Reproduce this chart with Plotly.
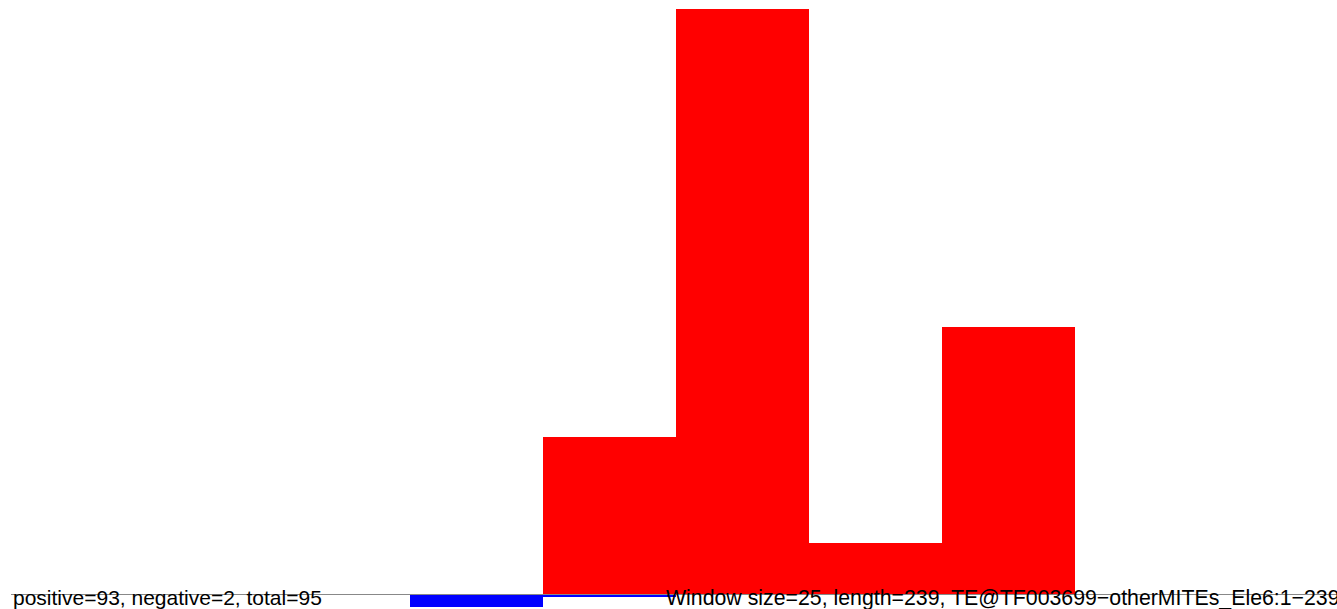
import plotly.graph_objects as go

# Window counts along the element (window size 25 bp, length 239 bp)
window_start = [0, 25, 50, 75, 100, 125, 150, 175, 200, 225]
positive = [0, 0, 0, 0, 13.75, 51.0, 4.49, 23.33, 0, 0]
negative = [0, 0, 0, -1.06, -0.19, 0, 0, 0, 0, 0]

window_size = 25
seq_length = 239
summary_label = "positive=93, negative=2, total=95"
info_label = "Window size=25, length=239, TE@TF003699\u2212otherMITEs_Ele6:1\u2212239"

centers = [s + window_size / 2 for s in window_start]

fig = go.Figure()
fig.add_trace(go.Bar(x=centers, y=positive, width=window_size,
                     marker=dict(color="#ff0000", line=dict(width=0)),
                     showlegend=False, hoverinfo="skip"))
fig.add_trace(go.Bar(x=centers, y=negative, width=window_size,
                     marker=dict(color="#0000ff", line=dict(width=0)),
                     showlegend=False, hoverinfo="skip"))

# zero line across the plot
fig.add_shape(type="line", xref="x", yref="y", x0=0, x1=260, y0=0, y1=0,
              line=dict(color="#888888", width=1.2), layer="above")

font = dict(family="Liberation Sans, Arial, sans-serif", size=21, color="black")
fig.add_annotation(x=0, y=-0.3, xref="x", yref="y", text=summary_label,
                   showarrow=False, xanchor="left", yanchor="middle", font=font)
fig.add_annotation(x=122.7, y=-0.3, xref="x", yref="y", text=info_label,
                   showarrow=False, xanchor="left", yanchor="middle",
                   font=dict(family=font["family"], size=21.3, color="black"))

fig.update_layout(
    width=1337, height=609,
    margin=dict(l=0, r=0, t=0, b=0),
    paper_bgcolor="white", plot_bgcolor="white",
    barmode="overlay", bargap=0,
    xaxis=dict(range=[-2.07, 249.2], visible=False, fixedrange=True),
    yaxis=dict(range=[-1.263, 51.78], visible=False, fixedrange=True),
)

fig.write_html("out.html", config={"displayModeBar": False})
